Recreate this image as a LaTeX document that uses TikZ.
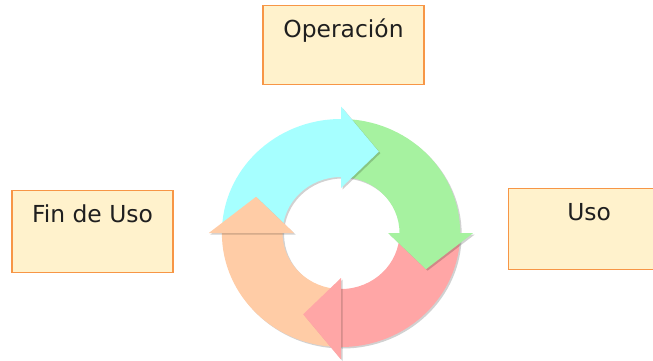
\documentclass[tikz,border=0pt]{standalone}
\usepackage{fontspec}
\setmainfont{DejaVu Sans}
\usepackage{tikz}
\definecolor{boxfill}{RGB}{255,242,204}
\definecolor{boxline}{RGB}{247,150,70}
\definecolor{ringcyan}{RGB}{166,255,255}
\definecolor{ringgreen}{RGB}{166,242,160}
\definecolor{ringred}{RGB}{255,166,166}
\definecolor{ringpeach}{RGB}{255,204,166}
\tikzset{
  BaseNode/.style = {align=center, inner sep=0pt, text centered},
  StageNode/.style = {BaseNode, rectangle, draw=boxline, fill=boxfill, line width=1.2pt,
    minimum width=161pt, text height=32pt, text depth=47pt, text=black!88,
    font=\fontsize{23.4}{28}\selectfont},
  RingShadow/.style = {black, opacity=0.18, shift={(1.5pt,-1.5pt)}},
}
% body of one ring arrow: colour, from angle, to angle
\newcommand{\ringbody}[3]{%
  \fill[#1] (#2:114pt) arc[start angle=#2, end angle=#3, radius=114pt]
    -- (#3:56pt) arc[start angle=#3, end angle=#2, radius=56pt] -- cycle;}
% head of one ring arrow: colour, base angle
\newcommand{\ringhead}[2]{%
  \fill[RingShadow] (#2:126.5pt) -- (#2-24:89pt) -- (#2:45pt) -- cycle;
  \fill[#1] (#2:126.5pt) -- (#2-24:89pt) -- (#2:45pt) -- cycle;}

\begin{document}
\begin{tikzpicture}[x=1pt, y=1pt]
    \clip (0,0) rectangle (653,360);
    \node [StageNode, anchor=north] (oper) at (343.5,355) {Operación};
    \node [StageNode, anchor=north, text depth=50pt] (fin) at (92.5,170) {Fin de Uso};
    \node [StageNode, anchor=north west, text depth=49pt] (uso) at (508,172) {Uso};
    \begin{scope}[shift={(341,127)}, xscale=1.045]
        \ringbody{RingShadow}{180}{-180}
        \ringbody{ringcyan}{180}{90}
        \ringbody{ringgreen}{90}{0}
        \ringbody{ringred}{0}{-90}
        \ringbody{ringpeach}{-90}{-180}
        \ringhead{ringcyan}{90}
        \ringhead{ringgreen}{0}
        \ringhead{ringred}{-90}
        \ringhead{ringpeach}{180}
    \end{scope}
\end{tikzpicture}
\end{document}
